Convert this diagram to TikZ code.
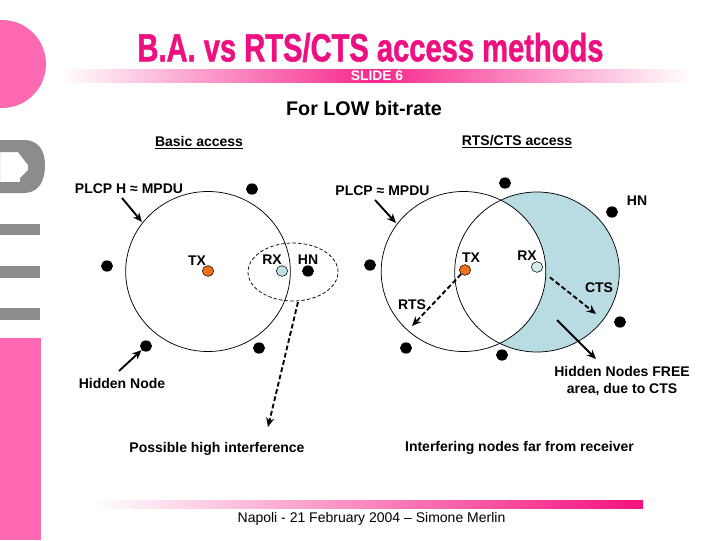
\documentclass[tikz,border=0pt]{standalone}
\usepackage{fontspec}
\setmainfont{Liberation Sans}
\newfontfamily\titlefont[BoldFeatures={FakeBold=1.4}]{Liberation Sans}
\usetikzlibrary{arrows.meta,shapes.geometric}
\definecolor{pinkb}{HTML}{FF69B4}
\definecolor{titlepink}{HTML}{EE1080}
\definecolor{barpink}{HTML}{F5107F}
\definecolor{greybar}{HTML}{8C8C8C}
\definecolor{freearea}{HTML}{B8DCE2}
\definecolor{txorange}{HTML}{F0701E}
\definecolor{rxblue}{HTML}{BFE0E6}
\tikzset{x=0.75pt,y=-0.75pt,
 lab/.style={font=\fontsize{10.5pt}{12.75pt}\selectfont\bfseries,inner sep=0pt,text=black,align=center,yshift=-0.75pt},
 lnk/.style={-{Stealth[length=7pt,width=6pt]},line width=1.4pt},
 dlnk/.style={lnk,dash pattern=on 3.6pt off 2pt},
 sta/.style={ellipse,fill=black,minimum width=9pt,minimum height=8.4pt,inner sep=0pt},
 rng/.style={draw,line width=0.55pt,ellipse,inner sep=0pt,minimum width=123.5pt,minimum height=120pt},
 hnrng/.style={draw,line width=0.55pt,ellipse,inner sep=0pt,minimum width=67.5pt,minimum height=43.5pt,dash pattern=on 2.6pt off 1.6pt},
 txs/.style={ellipse,draw=black,line width=0.4pt,fill=txorange,minimum width=8.5pt,minimum height=8pt,inner sep=0pt},
 rxs/.style={ellipse,draw=black,line width=0.4pt,fill=rxblue,minimum width=8.5pt,minimum height=8pt,inner sep=0pt}}
\begin{document}
\begin{tikzpicture}
\useasboundingbox (0,0) rectangle (720,540);
\fill[white] (0,0) rectangle (720,540);
% side decoration
\begin{scope}
\clip (0,0) rectangle (720,540);
\fill[pinkb] (2,64) circle [radius=44];
\end{scope}
\fill[pinkb] (0,338) rectangle (41,540);
\fill[greybar,even odd rule] (0,140) -- (24,140) .. controls (38,140) and (45,150) .. (45,165) .. controls (45,182) and (38,193) .. (24,193) -- (0,193) -- cycle
 (0,152) -- (18,152) -- (28,165) -- (28,170) -- (20,178) -- (20,182) -- (0,182) -- cycle;
\fill[greybar] (0,224) rectangle (40,235);
\fill[greybar] (0,266) rectangle (40,278);
\fill[greybar] (0,308) rectangle (40,320);
% title bar
\shade[left color=white,right color=barpink!90] (60,69) rectangle (375,82);
\shade[left color=barpink!90,right color=white] (375,69) rectangle (690,82);
\shade[left color=white,right color=barpink] (90,500) rectangle (643,508);
\node[inner sep=0,font=\fontsize{10.4pt}{12pt}\selectfont\bfseries,text=white] (slide) at (377,75.5) {SLIDE 6};
\node[inner sep=0,text=titlepink,font=\titlefont\fontsize{26pt}{30pt}\selectfont\bfseries] (title) at (370.5,47.5) {\scalebox{0.84}[1.13]{B.A. vs RTS/CTS access methods}};
\node[inner sep=0,font=\fontsize{14.8pt}{17pt}\selectfont\bfseries] (sub) at (364,108) {For LOW bit-rate};
\node[lab] (ba) at (199,142) {\underline{Basic access}};
\node[lab] (rc) at (517,141) {\underline{RTS/CTS access}};
\node[inner sep=0,font=\fontsize{10.5pt}{13pt}\selectfont] (foot) at (371.5,519) {Napoli - 21 February 2004 – Simone Merlin};
% left
\node[rng] (c1) at (208,271.5) {};
\node[hnrng] (hnr) at (293,272) {};
\coordinate (hnbot) at (298,302);
\node[lab] (plcph) at (129,188) {PLCP H ≈ MPDU};
\coordinate (a1s) at (122,198);
\coordinate (a1e) at (142,222);
\draw[lnk] (a1s) -- (a1e);
\node[sta] (l1) at (252,189) {};
\node[sta] (l2) at (107,266) {};
\node[sta] (l3) at (146,346) {};
\node[sta] (l4) at (259,348) {};
\node[sta] (l5) at (308,271) {};
\node[txs] (ltx) at (208,271) {};
\node[rxs] (lrx) at (282,271) {};
\node[lab] (ltxl) at (197,260) {TX};
\node[lab] (lrxl) at (272,259) {RX};
\node[lab] (lhnl) at (308,259) {HN};
\node[lab] (hid) at (122,382) {Hidden Node};
\coordinate (a2s) at (119,371);
\draw[lnk] (a2s) -- (l3);
\coordinate (a3e) at (268,427);
\draw[dlnk] (hnbot) -- (a3e);
\node[lab] (phi) at (217,448) {Possible high interference};
% right
\fill[freearea] (537,272) ellipse [x radius=82,y radius=80];
\fill[white] (463.5,271.5) ellipse [x radius=82,y radius=80];
\node[rng] (c2) at (463.5,271.5) {};
\node[rng] (c3) at (537,272) {};
\node[lab] (plcp) at (382.5,190) {PLCP ≈ MPDU};
\coordinate (b1s) at (375,200);
\coordinate (b1e) at (396,223);
\draw[lnk] (b1s) -- (b1e);
\node[sta] (r1) at (505,183) {};
\node[sta] (r2) at (612,212) {};
\node[sta] (r3) at (370,265) {};
\node[sta] (r4) at (406,348) {};
\node[sta] (r5) at (502,355) {};
\node[sta] (r6) at (620,322) {};
\node[txs] (rtx) at (465,270) {};
\node[rxs,fill=rxblue!70!white] (rrx) at (537,267) {};
\node[lab] (rtxl) at (471,257) {TX};
\node[lab] (rrxl) at (527,255) {RX};
\node[lab] (rhn) at (637,200) {HN};
\node[lab] (rts) at (412,304) {RTS};
\node[lab] (cts) at (599,287) {CTS};
\coordinate (b2e) at (412,326);
\draw[dlnk] (rtx) -- (b2e);
\coordinate (b3e) at (596,314);
\draw[dlnk,shorten <=8pt] (rrx) -- (b3e);
\coordinate (b4s) at (557,320);
\coordinate (b4e) at (596,359);
\draw[lnk] (b4s) -- (b4e);
\node[lab] (hnf) at (622,380) {Hidden Nodes FREE\\area, due to CTS};
\node[lab] (inf) at (519.5,447) {Interfering nodes far from receiver};
\end{tikzpicture}
\end{document}
